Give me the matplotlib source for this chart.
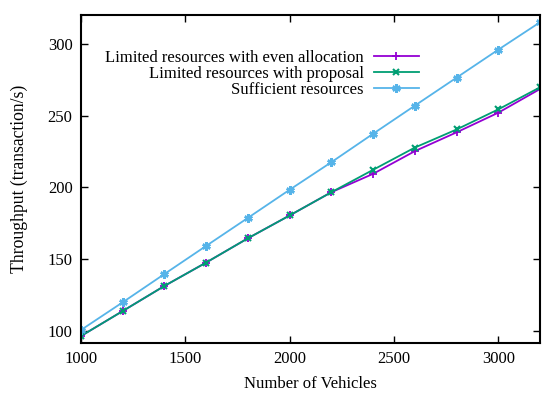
import matplotlib
matplotlib.use('Agg')
import matplotlib.pyplot as plt

vehicles = [1000, 1200, 1400, 1600, 1800, 2000, 2200, 2400, 2600, 2800, 3000, 3200]
even_alloc = [96.5, 113.9, 131.4, 147.7, 164.6, 180.5, 196.7, 209.5, 225.3, 238.4, 252.1, 268.6]
proposal = [96.5, 113.9, 131.4, 147.7, 164.6, 180.5, 196.7, 212.3, 227.8, 240.4, 254.4, 269.8]
sufficient = [100.7, 120.0, 139.7, 159.3, 178.8, 198.4, 217.6, 237.4, 257.0, 276.5, 296.0, 315.1]
xticks = [1000, 1500, 2000, 2500, 3000]
yticks = [100, 150, 200, 250, 300]

plt.rcParams['font.family'] = ['Liberation Serif', 'DejaVu Serif']
plt.rcParams['font.size'] = 12

fig = plt.figure(figsize=(5.5, 3.99), dpi=100)
ax = fig.add_axes([0.147, 0.140, 0.835, 0.822])

ax.plot(vehicles, even_alloc, color='#9400d3', lw=1.3, marker='+', ms=6, mew=1.3,
        label='Limited resources with even allocation')
ax.plot(vehicles, proposal, color='#009e73', lw=1.3, marker='x', ms=5, mew=1.5,
        label='Limited resources with proposal')
ax.plot(vehicles, sufficient, color='#56b4e9', lw=1.3, marker=(6, 2, 0), ms=6, mew=1.8,
        label='Sufficient resources')

ax.set_xlim(1000, 3200)
ax.set_ylim(91.6, 320)
ax.set_xticks(xticks)
ax.set_yticks(yticks)
ax.tick_params(direction='in', length=5, width=1, top=True, right=True, pad=6)
for s in ax.spines.values():
    s.set_linewidth(1.5)

ax.set_xlabel('Number of Vehicles', labelpad=6)
ax.set_ylabel('Throughput (transaction/s)', labelpad=14, fontsize=12.7)

ax.legend(loc='upper right', bbox_to_anchor=(0.761, 0.875), bbox_transform=fig.transFigure,
          frameon=False, markerfirst=False, handlelength=2.7, handletextpad=0.6,
          labelspacing=0.0, borderaxespad=0, borderpad=0, fontsize=12)

fig.savefig('out.png', dpi=100)
